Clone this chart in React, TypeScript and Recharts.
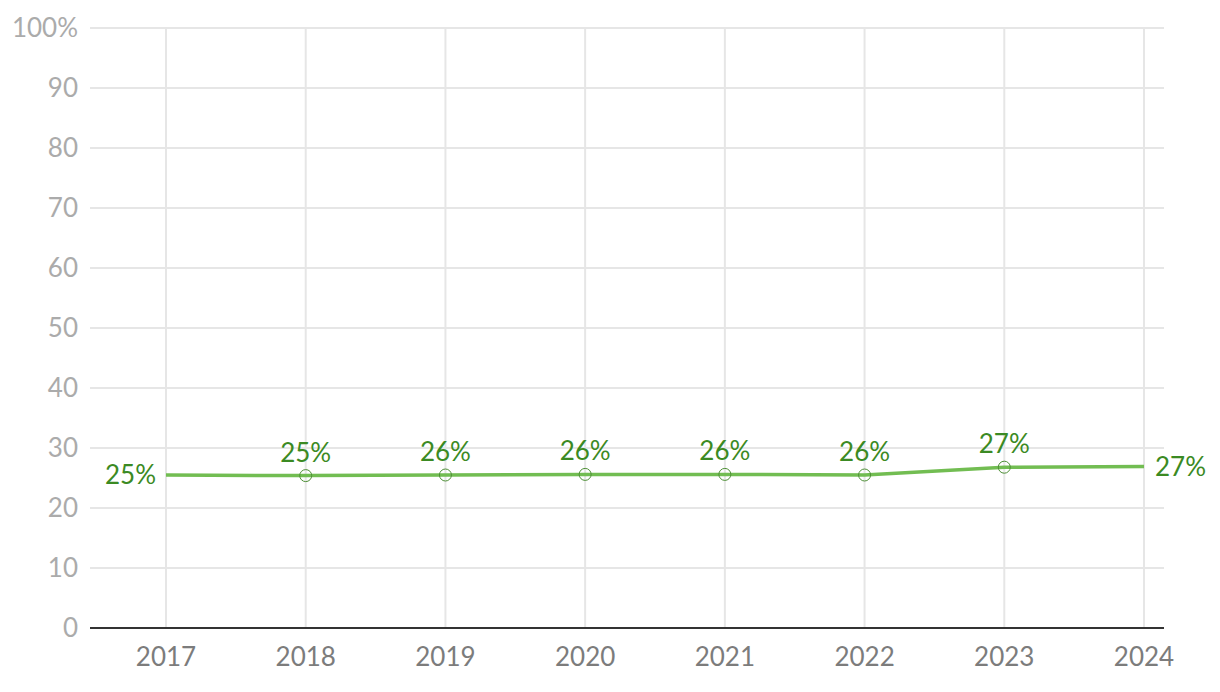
import { LineChart, Line, XAxis, YAxis, CartesianGrid, LabelList, ReferenceLine } from "recharts";

const years = ["2017", "2018", "2019", "2020", "2021", "2022", "2023", "2024"];
const shares = [25.5, 25.4, 25.5, 25.6, 25.6, 25.5, 26.8, 26.9];
const shareLabels = ["25%", "25%", "26%", "26%", "26%", "26%", "27%", "27%"];
const yTicks = [0, 10, 20, 30, 40, 50, 60, 70, 80, 90, 100];

const data = years.map((year, i) => ({ year, share: shares[i], label: shareLabels[i] }));

const FONT = "Lato, 'Noto Sans', sans-serif";
const LINE = "#72bd52";
const LABEL = "#3b8a23";
const GRID = "#e6e6e6";

function HollowDot(props: any) {
  const { cx, cy, index } = props;
  if (index === 0 || index === data.length - 1) return <g key={index} />;
  return <circle key={index} cx={cx} cy={cy} r={6} fill="none" stroke="#4e8f36" strokeWidth={1} />;
}

function PointLabel(props: any) {
  const { x, y, index } = props;
  const text = shareLabels[index];
  if (index === 0) {
    return (
      <text x={x - 10} y={y} dy="0.35em" textAnchor="end" fill={LABEL} fontSize={26} fontFamily={FONT}>
        {text}
      </text>
    );
  }
  if (index === data.length - 1) {
    return (
      <text x={x + 11} y={y} dy="0.35em" textAnchor="start" fill={LABEL} fontSize={26} fontFamily={FONT}>
        {text}
      </text>
    );
  }
  return (
    <text x={x} y={y - 14} textAnchor="middle" fill={LABEL} fontSize={26} fontFamily={FONT}>
      {text}
    </text>
  );
}

export default function App() {
  return (
    <div style={{ position: "absolute", left: 0, top: 0, background: "#fff" }}>
      <LineChart width={1220} height={692} data={data} margin={{ top: 28, right: 56, bottom: 0, left: 0 }}>
        <CartesianGrid stroke={GRID} strokeWidth={2} vertical={false} />
        {years.map((y) => (
          <ReferenceLine key={y} x={y} stroke={GRID} strokeWidth={2} />
        ))}
        <XAxis
          dataKey="year"
          scale="point"
          padding={{ left: 76, right: 20 }}
          height={64}
          tickLine={false}
          tickMargin={14}
          axisLine={{ stroke: "#333", strokeWidth: 2 }}
          tick={{ fill: "#7c7c7c", fontSize: 26, fontFamily: FONT }}
        />
        <YAxis
          domain={[0, 100]}
          ticks={yTicks}
          width={90}
          axisLine={false}
          tickLine={false}
          tickMargin={6}
          tickFormatter={(v: number) => (v === 100 ? "100%" : String(v))}
          tick={{ fill: "#ababab", fontSize: 26, fontFamily: FONT }}
        />
        <Line
          dataKey="share"
          stroke={LINE}
          strokeWidth={3.5}
          dot={<HollowDot />}
          activeDot={false}
          isAnimationActive={false}
        >
          <LabelList dataKey="label" content={<PointLabel />} />
        </Line>
      </LineChart>
    </div>
  );
}
